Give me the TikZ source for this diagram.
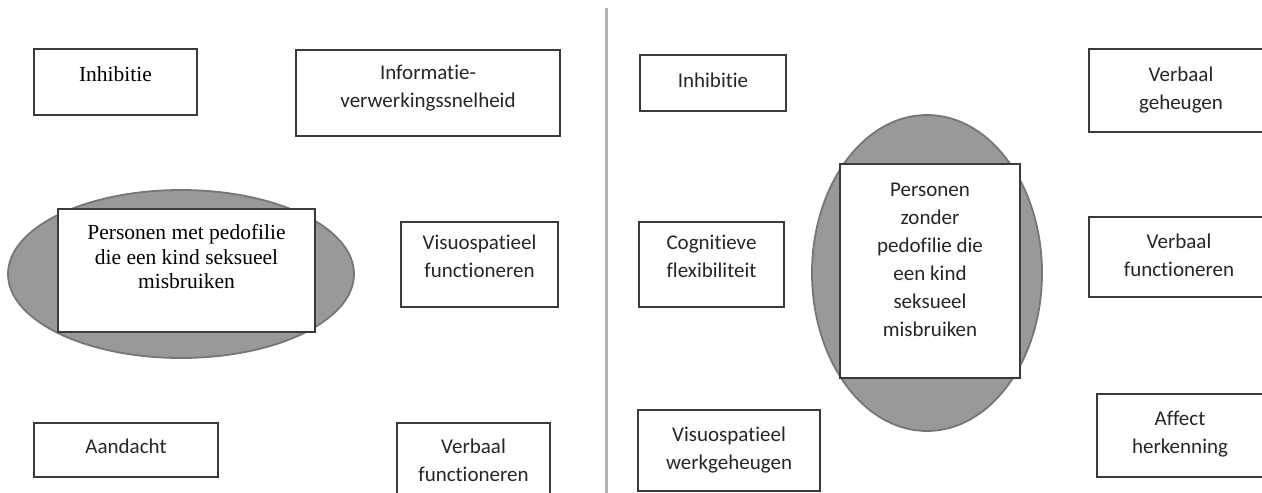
\documentclass[tikz,border=0pt]{standalone}
\usepackage{fontspec}
\setmainfont{Liberation Serif}
\newfontfamily\calfont[Ligatures=CommonOff]{Carlito}
\usetikzlibrary{positioning,shapes.geometric}

\definecolor{boxgray}{HTML}{3A3A3A}
\definecolor{blobgray}{HTML}{999999}
\definecolor{blobedge}{HTML}{767676}
\definecolor{divgray}{HTML}{B4B4B4}

\tikzset{
  box/.style={draw=boxgray, line width=1.3pt, fill=white, inner sep=0pt},
  blob/.style={ellipse, draw=blobedge, fill=blobgray, line width=1.8pt, inner sep=0pt},
  serif/.style={inner sep=0pt, align=center, font=\fontsize{21.5}{24.5}\selectfont},
  sans/.style={inner sep=0pt, align=center, text=black!85, font=\calfont\fontsize{21}{28}\selectfont},
  divider/.style={draw=divgray, line width=3pt}
}

\begin{document}
\begin{tikzpicture}[x=1pt,y=-1pt]
\useasboundingbox (0,0) rectangle (1262,493);

% divider
\coordinate (divtop) at (606,8);
\coordinate (divbot) at (606,495);
\draw[divider] (divtop) -- (divbot);

% left half
\node[blob, minimum width=346pt, minimum height=168pt] (ellA) at (181,274) {};
\node[box, minimum width=257pt, minimum height=123pt] (persA) at (186.5,270.5) {};
\node[box, minimum width=163pt, minimum height=66pt] (inhA) at (115.5,82) {};
\node[box, minimum width=264pt, minimum height=86pt] (infoA) at (428,93) {};
\node[box, minimum width=157pt, minimum height=85pt] (visA) at (479.5,264.5) {};
\node[box, minimum width=184pt, minimum height=54pt] (aanA) at (126,450) {};
\node[box, minimum width=153pt, minimum height=84pt] (verbA) at (473.5,465) {};

\node[serif, below=16pt of persA.north] (persAtxt) {Personen met pedofilie\\die een kind seksueel\\misbruiken};
\node[serif, below=18pt of inhA.north] (inhAtxt) {Inhibitie};
\node[sans, below=15pt of infoA.north] (infoAtxt) {Informatie-\\verwerkingssnelheid};
\node[sans, below=13pt of visA.north] (visAtxt) {Visuospatieel\\functioneren};
\node[sans, below=16pt of aanA.north] (aanAtxt) {Aandacht};
\node[sans, below=16pt of verbA.north] (verbAtxt) {Verbaal\\functioneren};

% right half
\node[blob, minimum width=230pt, minimum height=316pt] (ellB) at (927,273) {};
\node[box, minimum width=180pt, minimum height=214pt] (persB) at (930,271) {};
\node[box, minimum width=146pt, minimum height=56pt] (inhB) at (713,83) {};
\node[box, minimum width=184pt, minimum height=83pt] (vgB) at (1181,90.5) {};
\node[box, minimum width=145pt, minimum height=85pt] (cogB) at (711.5,264.5) {};
\node[box, minimum width=180pt, minimum height=80pt] (vfB) at (1179,257) {};
\node[box, minimum width=182pt, minimum height=81pt] (vwB) at (729,450.5) {};
\node[box, minimum width=166pt, minimum height=83pt] (affB) at (1180,435.5) {};

\node[sans, below=19pt of persB.north] (persBtxt) {Personen\\zonder\\pedofilie die\\een kind\\seksueel\\misbruiken};
\node[sans, below=18pt of inhB.north] (inhBtxt) {Inhibitie};
\node[sans, below=18pt of vgB.north] (vgBtxt) {Verbaal\\geheugen};
\node[sans, below=13pt of cogB.north] (cogBtxt) {Cognitieve\\flexibiliteit};
\node[sans, below=17pt of vfB.north] (vfBtxt) {Verbaal\\functioneren};
\node[sans, below=17pt of vwB.north] (vwBtxt) {Visuospatieel\\werkgeheugen};
\node[sans, below=18pt of affB.north] (affBtxt) {Affect\\herkenning};

\end{tikzpicture}
\end{document}
